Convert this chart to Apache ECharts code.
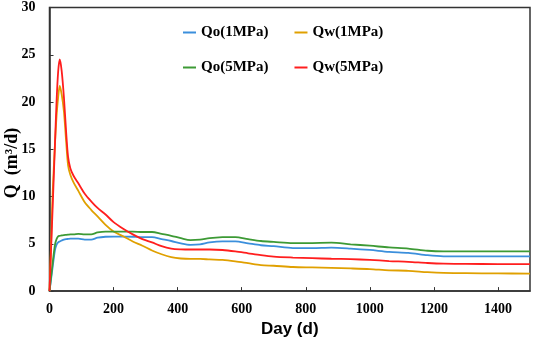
<!DOCTYPE html>
<html>
<head>
<meta charset="utf-8">
<script src="https://cdn.jsdelivr.net/npm/echarts@6/dist/echarts.min.js"></script>
<style>
  html, body { margin: 0; padding: 0; background: #fff; }
  #chart { width: 533px; height: 343px; }
</style>
</head>
<body>
<div id="chart"></div>
<script>
// days (x) shared by all four curves
const days = [0, 5, 10, 17, 22, 27, 32, 38, 45, 52, 58, 65, 75, 90, 110, 130, 150, 175, 200, 230,
  260, 290, 320, 350, 380, 410, 440, 470, 500, 540, 580, 620, 660, 700, 760, 820, 880, 940, 1000,
  1060, 1120, 1180, 1230, 1300, 1400, 1500];

const qo1 = [0, 1.3, 2.6, 4.3, 4.9, 5.15, 5.25, 5.35, 5.45, 5.5, 5.52, 5.55, 5.55, 5.55, 5.45, 5.45,
  5.65, 5.75, 5.77, 5.77, 5.75, 5.7, 5.7, 5.5, 5.3, 5.05, 4.9, 4.95, 5.15, 5.25, 5.25, 5.05, 4.85,
  4.75, 4.55, 4.55, 4.6, 4.5, 4.35, 4.15, 4.05, 3.8, 3.68, 3.67, 3.67, 3.67];

const qw1 = [0, 5, 10.5, 15.5, 18.5, 20.5, 21.7, 20.8, 19, 15.8, 13.3, 12.3, 11.5, 10.6, 9.4, 8.6,
  7.9, 7.0, 6.3, 5.8, 5.25, 4.8, 4.3, 3.9, 3.6, 3.45, 3.4, 3.4, 3.35, 3.3, 3.15, 2.95, 2.75, 2.68,
  2.55, 2.5, 2.45, 2.4, 2.33, 2.2, 2.15, 2.0, 1.92, 1.9, 1.87, 1.85];

const qo5 = [0, 1.5, 3, 4.9, 5.5, 5.8, 5.85, 5.9, 5.93, 5.95, 5.97, 6.0, 6.0, 6.05, 6.0, 6.0, 6.2,
  6.3, 6.3, 6.3, 6.3, 6.25, 6.25, 6.05, 5.85, 5.6, 5.4, 5.45, 5.6, 5.7, 5.72, 5.5, 5.3, 5.2, 5.07,
  5.08, 5.12, 4.95, 4.8, 4.62, 4.5, 4.27, 4.2, 4.2, 4.2, 4.2];

const qw5 = [0, 4.5, 9, 15.5, 20, 23.2, 24.5, 23.3, 20.5, 16.8, 14.2, 13.0, 12.2, 11.4, 10.3, 9.5,
  8.8, 8.1, 7.3, 6.6, 6.0, 5.5, 5.15, 4.75, 4.5, 4.42, 4.4, 4.4, 4.4, 4.35, 4.2, 4.0, 3.8, 3.65,
  3.55, 3.48, 3.42, 3.38, 3.3, 3.18, 3.1, 2.97, 2.9, 2.88, 2.86, 2.85];

const names = ['Qo(1MPa)', 'Qw(1MPa)', 'Qo(5MPa)', 'Qw(5MPa)'];
const colors = ['#3b8fdc', '#e0a000', '#3d9a35', '#ff1e1e'];
const values = [qo1, qw1, qo5, qw5];

const serif = 'Liberation Serif';
const chart = echarts.init(document.getElementById('chart'));

const legendBase = {
  left: 183,
  orient: 'horizontal',
  padding: 0,
  icon: 'rect',
  itemWidth: 13,
  itemHeight: 2,
  itemGap: 26,
  textStyle: { fontFamily: serif, fontWeight: 'bold', fontSize: 15, color: '#000' }
};

chart.setOption({
  animation: false,
  color: colors,
  grid: {
    left: 49.5, right: 3, top: 7.5, bottom: 50,
    show: true, borderColor: '#333', borderWidth: 1.5
  },
  legend: [
    { ...legendBase, top: 25, data: [names[0], names[1]] },
    { ...legendBase, top: 60, data: [names[2], names[3]] }
  ],
  xAxis: {
    type: 'value',
    min: 0, max: 1500, interval: 200,
    name: 'Day (d)',
    nameLocation: 'middle',
    nameGap: 29,
    nameTextStyle: { fontFamily: 'Liberation Sans', fontWeight: 'bold', fontSize: 17, color: '#000' },
    axisLine: { lineStyle: { color: '#333', width: 1.5 } },
    axisTick: { inside: true, length: 4, lineStyle: { color: '#333' } },
    axisLabel: {
      showMaxLabel: false, margin: 11,
      formatter: v => String(v),
      fontFamily: serif, fontWeight: 'bold', fontSize: 14, color: '#000'
    },
    splitLine: { show: false }
  },
  yAxis: {
    type: 'value',
    min: 0, max: 30, interval: 5,
    axisLine: { show: true, lineStyle: { color: '#333', width: 1.5 } },
    axisTick: { show: true, inside: true, length: 4, lineStyle: { color: '#333' } },
    axisLabel: { margin: 14, fontFamily: serif, fontWeight: 'bold', fontSize: 14, color: '#000' },
    splitLine: { show: false }
  },
  graphic: [{
    type: 'text',
    x: 12, y: 163,
    rotation: Math.PI / 2,
    style: {
      text: 'Q  (m³/d)',
      font: 'bold 18px "Liberation Serif"',
      fill: '#000',
      align: 'center',
      verticalAlign: 'middle'
    }
  }],
  series: names.map((n, i) => ({
    name: n,
    type: 'line',
    symbol: 'none',
    smooth: 0.3,
    lineStyle: { width: 1.8, color: colors[i] },
    data: days.map((d, j) => [d, values[i][j]])
  }))
});
</script>
</body>
</html>
